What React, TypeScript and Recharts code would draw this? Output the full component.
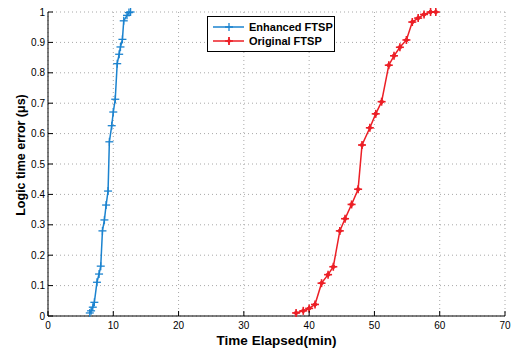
import React from "react";
import {
  LineChart,
  Line,
  XAxis,
  YAxis,
  CartesianGrid,
  Legend,
} from "recharts";

// Enhanced FTSP: time elapsed (min) vs logic time error
const enhancedX = [
  6.4, 6.6, 6.86, 7.1, 7.5, 7.82, 8.08, 8.34, 8.64, 8.9, 9.2, 9.4, 9.76, 10.0,
  10.3, 10.6, 10.9, 11.1, 11.4, 11.6, 12.1, 12.4, 12.65,
];
const enhancedY = [
  0.01, 0.017, 0.029, 0.045, 0.111, 0.138, 0.164, 0.28, 0.316, 0.365, 0.411,
  0.573, 0.626, 0.671, 0.713, 0.83, 0.861, 0.885, 0.91, 0.971, 0.989, 0.998, 1.0,
];

// Original FTSP
const originalX = [
  38.0, 39.1, 40.0, 40.9, 41.9, 42.9, 43.7, 44.7, 45.5, 46.5, 47.5, 48.1, 49.3,
  50.2, 51.1, 52.2, 53.0, 53.9, 54.9, 55.8, 56.7, 57.6, 58.6, 59.4,
];
const originalY = [
  0.01, 0.017, 0.025, 0.038, 0.108, 0.136, 0.162, 0.28, 0.32, 0.367, 0.417,
  0.5625, 0.619, 0.665, 0.705, 0.825, 0.856, 0.884, 0.908, 0.967, 0.98, 0.992,
  1.0, 1.0,
];

const xTicks = [0, 10, 20, 30, 40, 50, 60, 70];
const yTicks = [0, 0.1, 0.2, 0.3, 0.4, 0.5, 0.6, 0.7, 0.8, 0.9, 1];

const BLUE = "#1b83cf";
const RED = "#ec1f26";
const FONT = "'Liberation Sans', Arial, Helvetica, sans-serif";

const enhanced = enhancedX.map((x, i) => ({ x, y: enhancedY[i] }));
const original = originalX.map((x, i) => ({ x, y: originalY[i] }));

const TICK_LEN = 5;

const BottomTick = (props: any) => {
  const { x, y, payload } = props;
  return (
    <g>
      <line x1={x} y1={y} x2={x} y2={y - TICK_LEN} stroke="#000" />
      <text x={x} y={y + 13} textAnchor="middle" fontSize={10} fontFamily={FONT} fill="#000">
        {payload.value}
      </text>
    </g>
  );
};

const TopTick = (props: any) => {
  const { x, y } = props;
  return <line x1={x} y1={y} x2={x} y2={y + TICK_LEN} stroke="#000" />;
};

const LeftTick = (props: any) => {
  const { x, y, payload } = props;
  return (
    <g>
      <line x1={x} y1={y} x2={x + TICK_LEN} y2={y} stroke="#000" />
      <text x={x - 3} y={y + 3.5} textAnchor="end" fontSize={10} fontFamily={FONT} fill="#000">
        {payload.value}
      </text>
    </g>
  );
};

const RightTick = (props: any) => {
  const { x, y } = props;
  return <line x1={x} y1={y} x2={x - TICK_LEN} y2={y} stroke="#000" />;
};

const PlusDot = (props: any) => {
  const { cx, cy, index } = props;
  if (cx == null || cy == null) return <g key={`b-${index}`} />;
  return (
    <g key={`b-${index}`} stroke={BLUE} strokeWidth={1.3}>
      <line x1={cx - 4} y1={cy} x2={cx + 4} y2={cy} />
      <line x1={cx} y1={cy - 4} x2={cx} y2={cy + 4} />
    </g>
  );
};

const StarDot = (props: any) => {
  const { cx, cy, index } = props;
  if (cx == null || cy == null) return <g key={`r-${index}`} />;
  return (
    <g key={`r-${index}`} stroke={RED} strokeWidth={1.6}>
      <line x1={cx - 4} y1={cy} x2={cx + 4} y2={cy} />
      <line x1={cx} y1={cy - 4} x2={cx} y2={cy + 4} />
      <path d={`M${cx - 2.5},${cy} L${cx},${cy - 2.5} L${cx + 2.5},${cy} L${cx},${cy + 2.5} Z`} fill={RED} strokeWidth={0.8} />
    </g>
  );
};

const LegendBox = () => (
  <div
    style={{
      border: "1px solid #000",
      background: "#fff",
      width: 128,
      height: 36,
      boxSizing: "border-box",
      fontFamily: FONT,
      fontWeight: "bold",
      fontSize: 11,
      padding: "3px 0 0 4px",
    }}
  >
    {[
      { name: "Enhanced FTSP", color: BLUE, star: false },
      { name: "Original FTSP", color: RED, star: true },
    ].map((item) => (
      <div key={item.name} style={{ display: "flex", alignItems: "center", height: 14 }}>
        <svg width={34} height={10} style={{ marginRight: 3 }}>
          <line x1={1} y1={5} x2={32} y2={5} stroke={item.color} strokeWidth={1.5} />
          <line x1={13} y1={5} x2={21} y2={5} stroke={item.color} strokeWidth={1.5} />
          <line x1={17} y1={1} x2={17} y2={9} stroke={item.color} strokeWidth={item.star ? 1.8 : 1.3} />
          {item.star && <path d="M14.5,5 L17,2.5 L19.5,5 L17,7.5 Z" fill={item.color} />}
        </svg>
        <span style={{ color: "#000" }}>{item.name}</span>
      </div>
    ))}
  </div>
);

export default function App() {
  return (
    <div style={{ position: "absolute", left: 0, top: 0, width: 514, height: 348, background: "#fff" }}>
      <LineChart
        width={514}
        height={348}
        margin={{ top: 12, right: 9, bottom: 0, left: 0 }}
      >
        <CartesianGrid
          stroke="#a8a8a8"
          strokeDasharray="1 3"
          horizontalValues={yTicks}
          verticalValues={xTicks}
        />
        <XAxis
          dataKey="x"
          type="number"
          domain={[0, 70]}
          ticks={xTicks}
          height={32}
          tickSize={0}
          tickMargin={0}
          tickLine={false}
          axisLine={{ stroke: "#000" }}
          tick={<BottomTick />}
          label={{
            content: (p: any) => {
              const vb = p.viewBox;
              return (
                <text
                  x={vb.x + vb.width / 2}
                  y={345}
                  textAnchor="middle"
                  fontSize={13.5}
                  fontWeight="bold"
                  fontFamily={FONT}
                  fill="#000"
                >
                  Time Elapsed(min)
                </text>
              );
            },
          }}
        />
        <XAxis
          xAxisId="top"
          orientation="top"
          type="number"
          domain={[0, 70]}
          ticks={xTicks}
          height={0}
          tickSize={0}
          tickMargin={0}
          tickLine={false}
          axisLine={{ stroke: "#000" }}
          tick={<TopTick />}
        />
        <YAxis
          type="number"
          domain={[0, 1]}
          ticks={yTicks}
          width={48}
          tickSize={0}
          tickMargin={0}
          tickLine={false}
          axisLine={{ stroke: "#000" }}
          tick={<LeftTick />}
          label={{
            content: () => (
              <text
                x={25}
                y={155}
                transform="rotate(-90 25 155)"
                textAnchor="middle"
                fontSize={12.5}
                fontWeight="bold"
                fontFamily={FONT}
                fill="#000"
              >
                Logic time error (μs)
              </text>
            ),
          }}
        />
        <YAxis
          yAxisId="right"
          orientation="right"
          type="number"
          domain={[0, 1]}
          ticks={yTicks}
          width={0}
          tickSize={0}
          tickMargin={0}
          tickLine={false}
          axisLine={{ stroke: "#000" }}
          tick={<RightTick />}
        />
        <Legend
          verticalAlign="middle"
          align="center"
          content={<LegendBox />}
          wrapperStyle={{ position: "absolute", left: 207, top: 16, width: 130 }}
        />
        <Line
          data={enhanced}
          dataKey="y"
          name="Enhanced FTSP"
          stroke={BLUE}
          strokeWidth={1.5}
          dot={PlusDot}
          activeDot={false}
          isAnimationActive={false}
        />
        <Line
          data={original}
          dataKey="y"
          name="Original FTSP"
          stroke={RED}
          strokeWidth={1.5}
          dot={StarDot}
          activeDot={false}
          isAnimationActive={false}
        />
      </LineChart>
    </div>
  );
}
